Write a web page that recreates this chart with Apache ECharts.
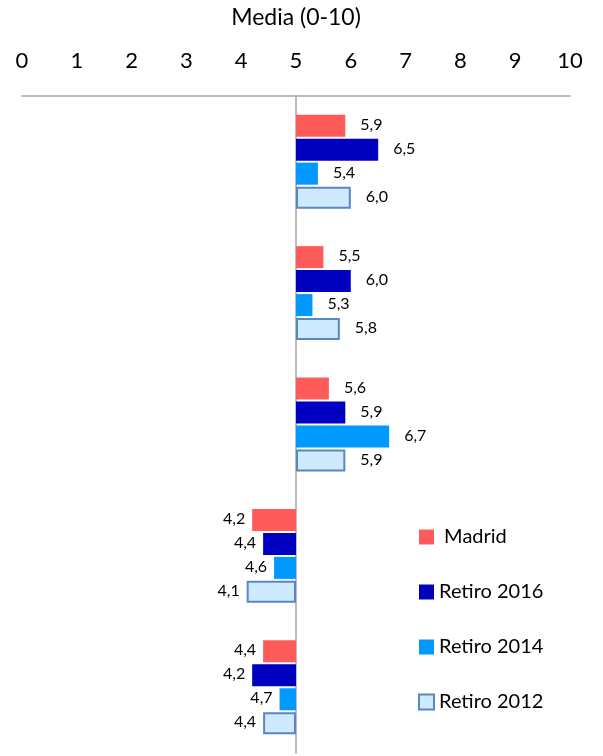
<!DOCTYPE html>
<html>
<head>
<meta charset="utf-8">
<script src="https://cdn.jsdelivr.net/npm/echarts@6/dist/echarts.min.js"></script>
<style>
  html, body { margin: 0; padding: 0; background: #fff; }
  #main { width: 603px; height: 756px; }
</style>
</head>
<body>
<div id="main"></div>
<script>
    // datos (media 0-10), eje centrado en 5
    var categories = ['Grupo 1', 'Grupo 2', 'Grupo 3', 'Grupo 4', 'Grupo 5'];
    var madrid = [5.9, 5.5, 5.6, 4.2, 4.4];
    var retiro2016 = [6.5, 6.0, 5.9, 4.4, 4.2];
    var retiro2014 = [5.4, 5.3, 6.7, 4.6, 4.7];
    var retiro2012 = [6.0, 5.8, 5.9, 4.1, 4.4];
    var tickLabels = ['0', '1', '2', '3', '4', '5', '6', '7', '8', '9', '10'];
    var center = 5;

    var font = 'Lato, "Open Sans", sans-serif';

    function toData(arr) {
        return arr.map(function (v) {
            var pos = v >= center;
            return {
                value: +(v - center).toFixed(2),
                orig: v,
                label: {
                    position: pos ? 'right' : 'left',
                    distance: pos ? 15 : 7
                }
            };
        });
    }

    function makeSeries(name, arr, style) {
        return {
            name: name,
            type: 'bar',
            barWidth: 22,
            barGap: '9%',
            data: toData(arr),
            itemStyle: style,
            label: {
                show: true,
                color: '#000',
                fontSize: 16,
                fontFamily: font,
                offset: [0, -1],
                formatter: function (p) {
                    return p.data.orig.toFixed(1).replace('.', ',');
                }
            }
        };
    }

    var myChart = echarts.init(document.getElementById('main'));
    var option = {
        animation: false,
        grid: { left: 22, right: 33, top: 96, bottom: 3, containLabel: false, outerBoundsMode: 'none' },
        legend: {
            orient: 'vertical',
            left: 418,
            top: 527,
            padding: 0,
            itemWidth: 15,
            itemHeight: 15,
            itemGap: 35,
            icon: 'rect',
            textStyle: { fontSize: 20, fontFamily: font, color: '#000' },
            formatter: function (n) { return n === 'Madrid' ? ' ' + n : n; },
            data: ['Madrid', 'Retiro 2016', 'Retiro 2014', 'Retiro 2012']
        },
        xAxis: {
            type: 'value',
            position: 'top',
            min: -5,
            max: 5,
            interval: 1,
            name: 'Media (0-10)',
            nameLocation: 'middle',
            nameGap: 67,
            nameTextStyle: { fontSize: 23, fontFamily: font, color: '#000' },
            axisLine: { show: true, lineStyle: { color: '#a6a6a6', width: 1.5 } },
            axisTick: { show: false },
            splitLine: { show: false },
            axisLabel: {
                margin: 24,
                fontSize: 22,
                fontFamily: font,
                color: '#000',
                formatter: function (v) { return tickLabels[Math.round(v + center)]; }
            }
        },
        yAxis: {
            type: 'category',
            inverse: true,
            data: categories,
            axisLine: { show: true, onZero: true, lineStyle: { color: '#a6a6a6', width: 1.5 } },
            axisTick: { show: false },
            axisLabel: { show: false }
        },
        series: [
            makeSeries('Madrid', madrid, { color: '#ff5b5b' }),
            makeSeries('Retiro 2016', retiro2016, { color: '#0000c0' }),
            makeSeries('Retiro 2014', retiro2014, { color: '#0099ff' }),
            makeSeries('Retiro 2012', retiro2012, { color: '#cdeaff', borderColor: '#5b86c5', borderWidth: 2 })
        ]
    };
    myChart.setOption(option);
</script>
</body>
</html>
